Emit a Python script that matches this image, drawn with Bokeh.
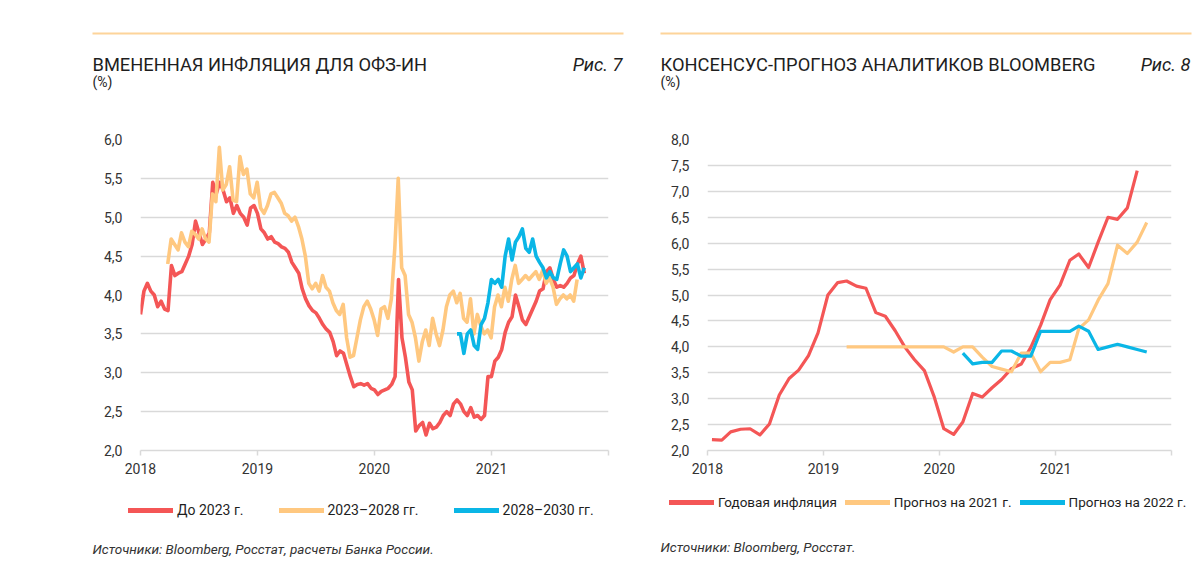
import pandas as pd
from bokeh.plotting import figure
from bokeh.layouts import row, column
from bokeh.models import (Label, Legend, LegendItem, BoxAnnotation, FixedTicker,
                          CustomJSTickFormatter, Range1d)
from bokeh.embed import file_html
from bokeh.resources import INLINE

# ---------------- data: chart 7 (implied inflation, %, ~10.7-day samples) -------------
STEP_DAYS = 10.74
up_to_2023_start = "2018-01-01"
up_to_2023 = [3.75, 4.05, 4.15, 4.05, 4.0, 3.85, 3.92, 3.82, 3.8, 4.38,
              4.25, 4.28, 4.3, 4.4, 4.5, 4.65, 4.95, 4.8, 4.65, 4.72,
              4.8, 5.45, 5.3, 5.45, 5.35, 5.2, 5.25, 5.05, 5.15, 5.05,
              5.0, 4.9, 5.12, 5.15, 5.05, 4.85, 4.8, 4.72, 4.75, 4.68,
              4.66, 4.62, 4.6, 4.55, 4.42, 4.35, 4.28, 4.08, 3.95, 3.86,
              3.8, 3.77, 3.7, 3.62, 3.56, 3.52, 3.4, 3.22, 3.28, 3.25,
              3.1, 2.95, 2.82, 2.85, 2.86, 2.84, 2.86, 2.8, 2.78, 2.72,
              2.76, 2.78, 2.8, 2.85, 2.95, 4.2, 3.45, 3.2, 2.88, 2.78,
              2.25, 2.32, 2.36, 2.2, 2.35, 2.28, 2.3, 2.36, 2.45, 2.5,
              2.45, 2.6, 2.65, 2.6, 2.5, 2.45, 2.55, 2.43, 2.45, 2.4,
              2.45, 2.95, 2.95, 3.15, 3.2, 3.3, 3.52, 3.65, 3.72, 4.0,
              3.85, 3.68, 3.62, 3.72, 3.82, 3.92, 4.05, 4.08, 4.3, 4.35,
              4.2, 4.1, 4.12, 4.1, 4.15, 4.22, 4.25, 4.4, 4.5, 4.28]
y2023_2028_start = "2018-03-27"
y2023_2028 = [4.4, 4.72, 4.65, 4.58, 4.8, 4.68, 4.62, 4.82, 4.78, 4.72,
              4.85, 4.72, 4.68, 5.3, 5.2, 5.9, 5.35, 5.42, 5.65, 5.22,
              5.2, 5.78, 5.55, 5.62, 5.3, 5.25, 5.45, 5.12, 5.05, 5.15,
              5.3, 5.32, 5.25, 5.18, 5.05, 5.02, 4.95, 5.0, 4.88, 4.72,
              4.5, 4.15, 4.08, 4.15, 4.05, 4.25, 4.1, 4.05, 3.9, 3.8,
              3.75, 3.88, 3.45, 3.2, 3.22, 3.45, 3.68, 3.85, 3.92, 3.82,
              3.68, 3.48, 3.82, 3.85, 3.7, 3.95, 4.6, 5.5, 4.35, 4.25,
              3.75, 3.65, 3.45, 3.15, 3.4, 3.55, 3.35, 3.7, 3.5, 3.35,
              3.55, 3.85, 4.0, 4.05, 3.9, 4.02, 3.7, 3.65, 3.95, 3.5,
              3.75, 3.6, 3.5, 3.55, 3.45, 3.85, 4.0, 3.85, 4.1, 3.92,
              4.2, 4.38, 4.15, 4.2, 4.25, 4.2, 4.25, 4.3, 4.2, 4.32,
              4.15, 4.22, 4.1, 3.88, 3.95, 4.0, 3.95, 4.0, 3.92, 4.2]
y2028_2030_start = "2020-09-15"
y2028_2030 = [3.5, 3.5, 3.25, 3.5, 3.55, 3.35, 3.3, 3.62, 3.7, 3.9,
              4.2, 4.15, 4.2, 4.1, 4.5, 4.72, 4.45, 4.68, 4.75, 4.85,
              4.6, 4.55, 4.72, 4.5, 4.42, 4.35, 4.22, 4.3, 4.22, 4.2,
              4.4, 4.58, 4.5, 4.3, 4.35, 4.4, 4.22, 4.35]

# ---------------- data: chart 8 (Bloomberg consensus, %, monthly) ---------------------
cpi_start = "2018-01"
cpi = [2.21, 2.2, 2.36, 2.41, 2.42, 2.3, 2.51, 3.07, 3.39, 3.55, 3.83, 4.27,
       5.0, 5.24, 5.27, 5.17, 5.13, 4.66, 4.59, 4.31, 3.99, 3.75, 3.54, 3.05,
       2.42, 2.31, 2.55, 3.1, 3.03, 3.21, 3.37, 3.58, 3.67, 3.99, 4.42, 4.91,
       5.19, 5.67, 5.79, 5.53, 6.02, 6.5, 6.46, 6.68, 7.4]
f2021_start = "2019-03"
f2021 = [4.0, 4.0, 4.0, 4.0, 4.0, 4.0, 4.0, 4.0, 4.0, 4.0, 4.0,
         3.9, 4.0, 4.0, 3.8, 3.62, 3.57, 3.52, 3.88, 3.88, 3.52, 3.7,
         3.7, 3.75, 4.35, 4.52, 4.9, 5.22, 5.96, 5.8, 6.02, 6.4]
f2022_start = "2020-03"
f2022 = [3.88, 3.67, 3.7, 3.7, 3.92, 3.92, 3.82, 3.82, 4.3, 4.3,
         4.3, 4.3, 4.4, 4.3, 3.95, 4.0, 4.05, 4.0, 3.95, 3.9]

years = [2018, 2019, 2020, 2021, 2022]
yticks7 = [2.0, 2.5, 3.0, 3.5, 4.0, 4.5, 5.0, 5.5, 6.0]
yticks8 = [2.0, 2.5, 3.0, 3.5, 4.0, 4.5, 5.0, 5.5, 6.0, 6.5, 7.0, 7.5, 8.0]

RED, ORANGE, BLUE = "#F45656", "#FFC880", "#0AB6E6"
GRID = "#D9D9D9"
TXT = "#1E1E1E"
FONT = "Roboto"

W_LEFT, W_RIGHT = 640, 560
H_HEAD, H_CHART, H_FOOT = 131, 360, 77


def daily(start, vals):
    return pd.date_range(start, periods=len(vals), freq=pd.Timedelta(days=STEP_DAYS))


def monthly(start, vals):
    return pd.date_range(start + "-01", periods=len(vals), freq="MS") + pd.Timedelta(days=14)


def ms(y):
    return pd.Timestamp(f"{y}-01-01").value // 10**6


def blank(width, height):
    p = figure(width=width, height=height, x_range=Range1d(0, width),
               y_range=Range1d(height, 0), output_backend="svg", toolbar_location=None,
               x_axis_location=None, y_axis_location=None,
               min_border_left=0, min_border_right=0, min_border_top=0, min_border_bottom=0)
    p.outline_line_color = None
    p.grid.grid_line_color = None
    return p


def chart(width, left, right, ymax, yticks):
    p = figure(width=width, height=H_CHART, x_axis_type="datetime",
               x_range=Range1d(pd.Timestamp("2018-01-01"), pd.Timestamp("2022-01-01")),
               y_range=Range1d(2, ymax), output_backend="svg", toolbar_location=None,
               min_border_left=left, min_border_right=right,
               min_border_top=8, min_border_bottom=H_CHART - 8 - 311)
    p.outline_line_color = None
    p.xgrid.grid_line_color = None
    p.ygrid.grid_line_color = GRID
    p.ygrid.grid_line_width = 1.5
    p.xaxis.ticker = FixedTicker(ticks=[ms(y) for y in years])
    p.xaxis.formatter = CustomJSTickFormatter(
        code="const y = new Date(tick).getUTCFullYear(); return y == 2022 ? '' : String(y);")
    p.xaxis.axis_line_color = GRID
    p.xaxis.axis_line_width = 1.5
    p.xaxis.major_tick_line_color = GRID
    p.xaxis.major_tick_line_width = 1.5
    p.xaxis.major_tick_in = 0
    p.xaxis.major_tick_out = 5
    p.xaxis.minor_tick_line_color = None
    p.xaxis.major_label_standoff = 7
    p.yaxis.ticker = FixedTicker(ticks=yticks)
    p.yaxis.formatter = CustomJSTickFormatter(code="return tick.toFixed(1).replace('.', ',');")
    p.yaxis.axis_line_color = None
    p.yaxis.major_tick_line_color = None
    p.yaxis.minor_tick_line_color = None
    p.yaxis.major_label_standoff = 12
    for ax in (p.xaxis, p.yaxis):
        ax.major_label_text_font = FONT
        ax.major_label_text_font_size = "14px"
        ax.major_label_text_color = "#333333"
    return p


def header(width, title, fig_no, x0, x1):
    h = blank(width, H_HEAD)
    h.add_layout(BoxAnnotation(left=x0, right=x1 + 1, top=32, bottom=34,
                               fill_color="#FDD49A", fill_alpha=1, line_alpha=0))
    h.add_layout(Label(x=x0, y=64, text=title, text_font=FONT, text_font_size="18.3px",
                       text_color=TXT, text_baseline="alphabetic", text_align="left"))
    h.add_layout(Label(x=x1, y=64, text=fig_no, text_font=FONT, text_font_size="18.3px",
                       text_color=TXT, text_font_style="italic",
                       text_baseline="alphabetic", text_align="right"))
    h.add_layout(Label(x=x0, y=81, text="(%)", text_font=FONT, text_font_size="14px",
                       text_color=TXT, text_baseline="middle", text_align="left"))
    return h


def footer(width, source, x0, src_y, items, leg_x, leg_y, spacing, leg_font):
    f = blank(width, H_FOOT)
    f.add_layout(Label(x=x0, y=src_y, text=source, text_font=FONT, text_font_size="13.5px",
                       text_color="#333333", text_font_style="italic",
                       text_baseline="middle", text_align="left"))
    litems = []
    for label, color in items:
        # off-canvas sample line, only used to draw the legend swatch
        r = f.line(x=[-50, -40], y=[-50, -50], line_width=5, line_color=color,
                   line_cap="round")
        litems.append(LegendItem(label=label, renderers=[r]))
    leg = Legend(items=litems, orientation="horizontal",
                 location=(leg_x, H_FOOT - leg_y - 10),
                 spacing=spacing, glyph_width=45, glyph_height=20, label_standoff=4,
                 padding=0, margin=0, border_line_alpha=0, background_fill_alpha=0,
                 label_text_font=FONT, label_text_font_size=leg_font,
                 label_text_color=TXT, label_height=20)
    f.add_layout(leg)
    return f


# ---------------- chart 7 ----------------
p1 = chart(W_LEFT, 140, 32, 6, yticks7)
for vals, start, col in ((up_to_2023, up_to_2023_start, RED),
                         (y2023_2028, y2023_2028_start, ORANGE),
                         (y2028_2030, y2028_2030_start, BLUE)):
    p1.line(daily(start, vals), vals, line_color=col, line_width=3.6, line_join="round")
h1 = header(W_LEFT, "ВМЕНЕННАЯ ИНФЛЯЦИЯ ДЛЯ ОФЗ-ИН", "Рис. 7", 92, 622)
f1 = footer(W_LEFT, "Источники: Bloomberg, Росстат, расчеты Банка России.", 92, 57,
            [("До 2023 г.", RED), ("2023–2028 гг.", ORANGE), ("2028–2030 гг.", BLUE)],
            128, 19, 35, "14px")

# ---------------- chart 8 ----------------
p2 = chart(W_RIGHT, 67, 29, 8, yticks8)
for vals, start, col in ((cpi, cpi_start, RED), (f2021, f2021_start, ORANGE),
                         (f2022, f2022_start, BLUE)):
    p2.line(monthly(start, vals), vals, line_color=col, line_width=3.2, line_join="round")
h2 = header(W_RIGHT, "КОНСЕНСУС-ПРОГНОЗ АНАЛИТИКОВ BLOOMBERG", "Рис. 8", 20, 550)
f2 = footer(W_RIGHT, "Источники: Bloomberg, Росстат.", 20, 55,
            [("Годовая инфляция", RED), ("Прогноз на 2021 г.", ORANGE),
             ("Прогноз на 2022 г.", BLUE)],
            29, 11, 8, "13.5px")

layout = column(row(h1, h2), row(p1, p2), row(f1, f2))
open("out.html", "w").write(file_html(layout, INLINE))
